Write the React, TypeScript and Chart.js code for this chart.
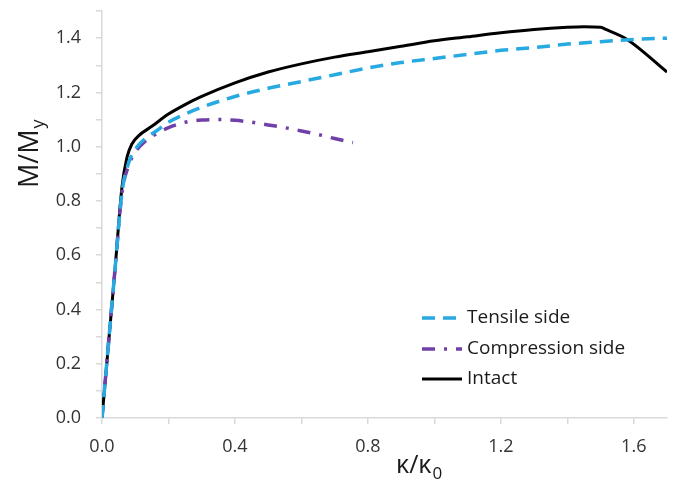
import React, { useEffect, useRef } from "react";
import { Chart, registerables } from "chart.js";

Chart.register(...registerables);

// ---- data ----
const seriesNames = ["Tensile side", "Compression side", "Intact"];

const tensileX = [0, 0.04, 0.06, 0.08, 0.1, 0.13, 0.16, 0.2, 0.25, 0.3, 0.4, 0.5, 0.6, 0.7, 0.8, 0.9, 1.0, 1.1, 1.2, 1.3, 1.4, 1.5, 1.6, 1.7];
const tensileY = [0, 0.56, 0.83, 0.94, 0.99, 1.03, 1.055, 1.09, 1.12, 1.145, 1.185, 1.215, 1.24, 1.265, 1.29, 1.31, 1.325, 1.34, 1.355, 1.365, 1.378, 1.387, 1.395, 1.4];

const compressionX = [0, 0.04, 0.06, 0.08, 0.1, 0.13, 0.16, 0.2, 0.25, 0.3, 0.35, 0.4, 0.45, 0.5, 0.55, 0.6, 0.65, 0.7, 0.755];
const compressionY = [0, 0.56, 0.83, 0.93, 0.98, 1.02, 1.045, 1.07, 1.09, 1.098, 1.1, 1.097, 1.09, 1.08, 1.07, 1.058, 1.045, 1.03, 1.015];

const intactX = [0, 0.04, 0.06, 0.075, 0.09, 0.11, 0.15, 0.2, 0.25, 0.3, 0.4, 0.5, 0.6, 0.7, 0.8, 0.9, 1.0, 1.1, 1.2, 1.3, 1.4, 1.45, 1.5, 1.52, 1.58, 1.7];
const intactY = [0, 0.56, 0.85, 0.96, 1.01, 1.04, 1.075, 1.12, 1.155, 1.185, 1.235, 1.275, 1.305, 1.33, 1.35, 1.37, 1.39, 1.405, 1.42, 1.432, 1.44, 1.442, 1.44, 1.43, 1.395, 1.275];

const xTicks = [0, 0.2, 0.4, 0.6, 0.8, 1.0, 1.2, 1.4, 1.6];
const xTickLabels = ["0.0", "", "0.4", "", "0.8", "", "1.2", "", "1.6"];
const yTicks = [0, 0.1, 0.2, 0.3, 0.4, 0.5, 0.6, 0.7, 0.8, 0.9, 1.0, 1.1, 1.2, 1.3, 1.4, 1.5];
const yTickLabels = ["0.0", "", "0.2", "", "0.4", "", "0.6", "", "0.8", "", "1.0", "", "1.2", "", "1.4", ""];

const FONT = "'Open Sans', sans-serif";

const zip = (xs: number[], ys: number[]) => xs.map((x, i) => ({ x, y: ys[i] }));

const overlayPlugin = {
  id: "overlay",
  afterDraw(chart: any) {
    const ctx = chart.ctx as CanvasRenderingContext2D;
    ctx.save();
    ctx.fillStyle = "#1a1a1a";
    // y title: M/M_y
    ctx.translate(38, 188);
    ctx.rotate(-Math.PI / 2);
    ctx.font = `27px ${FONT}`;
    ctx.textBaseline = "alphabetic";
    ctx.textAlign = "left";
    ctx.fillText("M/M", 0, 0);
    const w = ctx.measureText("M/M").width;
    ctx.font = `18px ${FONT}`;
    ctx.fillText("y", w + 1, 6);
    ctx.restore();

    // x title: κ/κ_0
    ctx.save();
    ctx.fillStyle = "#1a1a1a";
    ctx.font = `25px ${FONT}`;
    ctx.textBaseline = "alphabetic";
    ctx.textAlign = "left";
    ctx.fillText("\u03BA/\u03BA", 396, 473);
    const w2 = ctx.measureText("\u03BA/\u03BA").width;
    ctx.font = `17px ${FONT}`;
    ctx.fillText("0", 396 + w2 + 1, 479);
    ctx.restore();

    // legend
    ctx.save();
    const rows = [318, 349, 379];
    chart.data.datasets.forEach((ds: any, i: number) => {
      const y = rows[i];
      ctx.beginPath();
      ctx.strokeStyle = ds.borderColor;
      ctx.lineWidth = ds.borderWidth;
      ctx.setLineDash(ds.borderDash || []);
      ctx.moveTo(422, y);
      ctx.lineTo(462, y);
      ctx.stroke();
      ctx.setLineDash([]);
      ctx.fillStyle = "#1a1a1a";
      ctx.font = `19px ${FONT}`;
      ctx.textBaseline = "middle";
      ctx.textAlign = "left";
      ctx.fillText(ds.label, 467, y);
    });
    ctx.restore();
  },
};

export default function App() {
  const ref = useRef<HTMLCanvasElement>(null);
  useEffect(() => {
    document.body.style.margin = "0";
    const chart = new Chart(ref.current!, {
      type: "line",
      data: {
        datasets: [
          {
            label: seriesNames[0],
            data: zip(tensileX, tensileY),
            borderColor: "#27a9e1",
            borderWidth: 3.5,
            borderDash: [13, 8],
            pointRadius: 0,
            cubicInterpolationMode: "monotone",
            fill: false,
          },
          {
            label: seriesNames[1],
            data: zip(compressionX, compressionY),
            borderColor: "#7040a8",
            borderWidth: 3.5,
            borderDash: [13, 9, 3, 9],
            pointRadius: 0,
            cubicInterpolationMode: "monotone",
            fill: false,
          },
          {
            label: seriesNames[2],
            data: zip(intactX, intactY),
            borderColor: "#000000",
            borderWidth: 3,
            pointRadius: 0,
            cubicInterpolationMode: "monotone",
            fill: false,
          },
        ],
      },
      options: {
        animation: false,
        responsive: false,
        layout: { padding: { top: 11, right: 8, left: 0, bottom: 0 } },
        plugins: { legend: { display: false }, tooltip: { enabled: false } },
        scales: {
          x: {
            type: "linear",
            min: 0,
            max: 1.7,
            afterBuildTicks: (s: any) => {
              s.ticks = xTicks.map((v) => ({ value: v }));
            },
            afterFit: (s: any) => {
              s.height = 64;
              s.paddingLeft = 0;
              s.paddingRight = 0;
            },
            ticks: {
              autoSkip: false,
              maxRotation: 0,
              padding: 12,
              color: "#333333",
              font: { family: FONT, size: 18 },
              callback: (_v: any, i: number) => xTickLabels[i],
            },
            grid: { drawOnChartArea: false, drawTicks: true, tickLength: 6, color: "#d9d9d9", lineWidth: 1.5 },
            border: { display: true, color: "#d9d9d9", width: 1.5 },
          },
          y: {
            type: "linear",
            min: 0,
            max: 1.5,
            afterBuildTicks: (s: any) => {
              s.ticks = yTicks.map((v) => ({ value: v }));
            },
            afterFit: (s: any) => {
              s.width = 102;
              s.paddingTop = 0;
              s.paddingBottom = 0;
            },
            ticks: {
              autoSkip: false,
              padding: 15,
              color: "#333333",
              font: { family: FONT, size: 18 },
              callback: (_v: any, i: number) => yTickLabels[i],
            },
            grid: { drawOnChartArea: false, drawTicks: true, tickLength: 6, color: "#d9d9d9", lineWidth: 1.5 },
            border: { display: true, color: "#d9d9d9", width: 1.5 },
          },
        },
      },
      plugins: [overlayPlugin],
    } as any);
    return () => chart.destroy();
  }, []);
  return (
    <div style={{ width: 675, height: 482 }}>
      <canvas ref={ref} width={675} height={482} style={{ display: "block" }} />
    </div>
  );
}
